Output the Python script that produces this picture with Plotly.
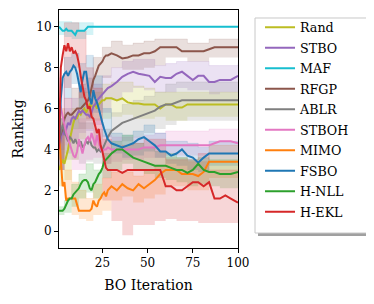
import plotly.graph_objects as go

# ---------------- data ----------------
names = ["Rand", "STBO", "MAF", "RFGP", "ABLR", "STBOH", "MIMO", "FSBO", "H-NLL", "H-EKL"]
colors = ["#bcbd22", "#9467bd", "#17becf", "#8c564b", "#7f7f7f",
          "#e377c2", "#ff7f0e", "#1f77b4", "#2ca02c", "#d62728"]
band_rgb = ["188,189,34", "148,103,189", "23,190,207", "140,86,75", "127,127,127",
            "227,119,194", "255,127,14", "31,119,180", "44,160,44", "214,39,40"]

iters = [1, 2, 3, 4, 5, 6, 7, 8, 9, 10, 11, 12, 13, 14, 15, 16, 17, 18, 19, 20,
         21, 22, 23, 24, 25, 26, 27, 28, 30, 33, 36, 39, 42, 45, 48, 51, 54, 57,
         60, 63, 66, 69, 72, 75, 78, 81, 84, 87, 90, 93, 96, 100]

rand = [3.0, 3.3, 3.5, 3.3, 3.6, 4.0, 4.5, 5.0, 5.3, 5.6, 5.5, 5.8, 5.7, 5.9, 6.0, 5.8, 6.0, 6.2, 6.1, 6.1,
        6.2, 6.0, 6.2, 6.3, 6.4, 6.4, 6.5, 6.5, 6.5, 6.4, 6.5, 6.3, 6.25, 6.25, 6.2, 6.2, 6.2, 6.0,
        6.2, 6.2, 6.05, 6.05, 6.2, 6.2, 6.2, 6.2, 6.2, 6.2, 6.2, 6.2, 6.2, 6.2]
stbo = [4.0, 4.5, 5.0, 4.7, 5.0, 5.3, 5.2, 5.5, 5.6, 5.5, 5.7, 5.9, 5.8, 5.9, 5.8, 5.7, 5.7, 5.6, 5.8, 6.1,
        6.2, 6.4, 6.5, 6.6, 6.7, 6.8, 6.9, 7.0, 7.1, 7.3, 7.55, 7.7, 7.8, 7.7, 7.65, 7.6, 7.3, 7.55,
        7.5, 7.5, 7.7, 7.8, 7.6, 7.4, 7.6, 7.6, 7.3, 7.3, 7.4, 7.4, 7.4, 7.6]
maf = [10.0, 9.9, 9.8, 9.8, 9.9, 9.8, 9.8, 9.8, 9.7, 9.6, 9.8, 9.8, 9.8, 9.8, 9.8, 9.9, 10.0, 10.0, 10.0, 10.0,
       10.0, 10.0, 10.0, 10.0, 10.0, 10.0, 10.0, 10.0, 10.0, 10.0, 10.0, 10.0, 10.0, 10.0, 10.0, 10.0, 10.0, 10.0,
       10.0, 10.0, 10.0, 10.0, 10.0, 10.0, 10.0, 10.0, 10.0, 10.0, 10.0, 10.0, 10.0, 10.0]
rfgp = [4.5, 4.8, 5.0, 5.5, 5.7, 5.8, 5.7, 5.7, 5.8, 5.9, 6.0, 6.0, 6.0, 6.1, 6.2, 6.3, 6.4, 6.6, 7.0, 7.4,
        7.6, 7.9, 8.1, 8.2, 8.3, 8.5, 8.6, 8.6, 8.7, 8.6, 8.45, 8.5, 8.6, 8.6, 8.7, 8.7, 8.8, 9.0,
        9.0, 9.0, 9.0, 8.8, 8.8, 8.8, 8.8, 8.8, 8.9, 9.0, 9.0, 9.0, 9.0, 9.0]
ablr = [4.5, 4.8, 5.2, 4.9, 4.6, 4.4, 4.6, 4.5, 4.3, 4.5, 4.3, 4.2, 4.4, 4.1, 4.2, 4.4, 4.3, 4.5, 4.2, 4.1,
        4.1, 3.9, 4.0, 3.9, 4.0, 4.2, 4.4, 4.6, 4.9, 5.1, 5.3, 5.4, 5.5, 5.6, 5.7, 5.8, 5.9, 6.1,
        6.2, 6.2, 6.3, 6.4, 6.4, 6.4, 6.4, 6.4, 6.4, 6.4, 6.4, 6.4, 6.4, 6.4]
stboh = [6.5, 6.0, 5.6, 5.2, 4.8, 4.5, 4.3, 4.0, 3.7, 3.6, 3.9, 4.5, 4.2, 3.8, 4.2, 4.5, 4.6, 4.4, 4.8, 4.5,
         4.2, 4.7, 4.4, 4.0, 3.9, 4.0, 4.0, 4.1, 4.0, 4.0, 4.0, 4.0, 4.0, 4.0, 4.1, 4.1, 4.1, 4.2,
         4.2, 4.2, 4.2, 4.2, 4.2, 4.2, 4.2, 4.2, 4.2, 4.3, 4.4, 4.4, 4.4, 4.3]
mimo = [4.8, 3.2, 2.2, 2.4, 1.5, 1.6, 1.6, 1.6, 1.6, 1.6, 1.3, 1.0, 1.0, 1.0, 1.0, 1.0, 1.0, 1.0, 1.1, 1.5,
        1.3, 1.2, 1.5, 1.6, 1.8, 1.9, 1.7, 2.0, 2.2, 2.0, 2.3, 2.1, 2.0, 2.3, 2.1, 2.3, 2.5, 2.8,
        3.0, 3.0, 3.0, 2.8, 2.8, 2.8, 2.7, 2.9, 3.4, 3.4, 3.4, 3.4, 3.4, 3.4]
fsbo = [4.2, 6.5, 7.5, 7.7, 7.8, 7.6, 7.8, 7.9, 8.1, 8.0, 7.7, 7.3, 6.8, 7.4, 7.8, 7.8, 7.2, 6.5, 6.2, 6.9,
        6.5, 6.3, 6.0, 5.6, 5.3, 5.0, 4.7, 4.5, 4.3, 4.2, 4.1, 4.2, 4.3, 4.5, 4.6, 4.4, 4.2, 3.9,
        3.9, 3.7, 3.8, 4.0, 3.7, 3.6, 3.35, 3.6, 3.8, 3.8, 3.8, 3.8, 3.8, 3.8]
hnll = [1.0, 1.0, 1.0, 1.1, 1.3, 1.5, 1.6, 1.6, 1.8, 1.9, 2.0, 2.1, 2.3, 2.45, 2.5, 2.5, 2.4, 2.1, 2.0, 2.3,
        2.4, 2.6, 2.8, 2.9, 3.1, 3.4, 3.5, 3.6, 3.8, 4.0, 4.0, 3.8, 3.6, 3.5, 3.4, 3.3, 3.2, 3.2,
        3.2, 3.1, 3.0, 3.0, 2.85, 3.0, 3.3, 3.0, 2.9, 2.9, 2.8, 2.8, 2.8, 2.9]
hekl = [4.0, 8.0, 8.6, 9.1, 8.8, 9.2, 8.8, 9.0, 8.7, 8.8, 8.6, 8.2, 7.6, 7.0, 6.6, 6.4, 6.0, 6.1, 5.6, 5.5,
        5.2, 4.8, 5.0, 4.2, 3.9, 3.5, 3.1, 3.0, 3.0, 3.0, 2.85, 3.0, 3.0, 3.0, 3.0, 3.0, 3.0, 3.0,
        2.2, 2.2, 2.0, 2.0, 2.2, 2.4, 2.4, 2.2, 2.4, 1.6, 1.6, 1.75, 1.6, 1.4]

band_iters = [1, 4, 8, 12, 16, 20, 25, 30, 36, 42, 48, 54, 60, 66, 72, 78, 84, 90, 96, 100]
rand_lo = [2.2, 2.5, 3.5, 4.5, 5.0, 5.4, 5.5, 5.6, 5.7, 5.5, 5.5, 5.6, 5.4, 5.4, 5.6, 5.6, 5.6, 5.6, 5.6, 5.6]
rand_hi = [4.0, 4.5, 6.0, 6.8, 6.8, 6.8, 7.2, 7.3, 7.3, 7.1, 7.0, 6.8, 6.8, 6.8, 6.8, 6.8, 6.8, 6.8, 6.8, 6.8]
stbo_lo = [3.0, 3.8, 4.5, 4.8, 4.9, 5.2, 5.8, 6.4, 6.8, 7.0, 6.9, 6.8, 6.8, 7.0, 6.9, 6.9, 6.7, 6.8, 6.8, 6.9]
stbo_hi = [5.0, 6.0, 6.5, 7.0, 6.8, 7.2, 7.6, 8.0, 8.3, 8.4, 8.4, 8.1, 8.2, 8.3, 8.3, 8.3, 8.1, 8.1, 8.1, 8.2]
maf_lo = [9.6, 9.5, 9.4, 9.4, 9.6, 10.0, 10.0, 10.0, 10.0, 10.0, 10.0, 10.0, 10.0, 10.0, 10.0, 10.0, 10.0, 10.0, 10.0, 10.0]
maf_hi = [10.25, 10.25, 10.2, 10.2, 10.2, 10.0, 10.0, 10.0, 10.0, 10.0, 10.0, 10.0, 10.0, 10.0, 10.0, 10.0, 10.0, 10.0, 10.0, 10.0]
rfgp_lo = [4.0, 4.5, 5.0, 5.0, 5.4, 6.5, 7.5, 8.0, 7.9, 7.9, 8.0, 8.1, 8.5, 8.5, 8.3, 8.3, 8.5, 8.5, 8.5, 8.5]
rfgp_hi = [5.5, 6.5, 7.0, 7.2, 7.5, 8.5, 9.0, 9.3, 9.1, 9.2, 9.3, 9.4, 9.4, 9.4, 9.2, 9.2, 9.4, 9.4, 9.4, 9.4]
ablr_lo = [3.5, 3.5, 3.5, 3.3, 3.4, 3.3, 3.3, 4.0, 4.4, 4.6, 4.8, 5.0, 5.2, 5.4, 5.4, 5.4, 5.4, 5.4, 5.4, 5.4]
ablr_hi = [5.5, 5.8, 5.5, 5.3, 5.3, 5.0, 5.0, 5.8, 6.2, 6.4, 6.6, 6.8, 7.2, 7.3, 7.3, 7.3, 7.3, 7.3, 7.3, 7.3]
stboh_lo = [5.5, 4.2, 3.0, 3.0, 3.5, 3.6, 3.3, 3.4, 3.5, 3.5, 3.6, 3.6, 3.7, 3.7, 3.7, 3.7, 3.8, 3.8, 3.8, 3.8]
stboh_hi = [7.5, 6.5, 5.0, 5.5, 5.5, 5.5, 4.7, 4.6, 4.6, 4.6, 4.7, 4.8, 4.9, 4.9, 4.9, 4.9, 5.0, 5.0, 5.0, 5.0]
mimo_lo = [3.5, 1.6, 0.8, 0.6, 0.5, 0.8, 1.0, 1.5, 1.7, 1.4, 1.6, 1.8, 2.2, 2.2, 2.0, 2.0, 2.6, 2.6, 2.6, 2.6]
mimo_hi = [6.0, 3.0, 2.4, 2.0, 1.6, 2.3, 2.6, 2.9, 2.9, 2.7, 3.0, 3.2, 3.6, 3.6, 3.4, 3.4, 4.2, 4.2, 4.2, 4.2]
fsbo_lo = [3.0, 6.5, 7.2, 6.0, 6.8, 5.8, 4.6, 3.8, 3.6, 3.7, 3.9, 3.6, 3.3, 3.2, 3.0, 2.9, 3.2, 3.2, 3.2, 3.2]
fsbo_hi = [5.5, 8.5, 8.7, 8.2, 8.6, 7.6, 6.0, 4.8, 4.7, 4.9, 5.2, 4.8, 4.4, 4.4, 4.3, 4.1, 4.4, 4.4, 4.4, 4.4]
hnll_lo = [0.8, 0.9, 1.2, 1.6, 1.9, 1.6, 2.6, 3.0, 3.3, 3.0, 2.8, 2.6, 2.5, 2.4, 2.2, 2.3, 2.2, 2.1, 2.1, 2.1]
hnll_hi = [1.2, 1.5, 2.3, 2.8, 3.3, 3.0, 3.8, 4.4, 4.7, 4.3, 4.1, 3.9, 3.8, 3.6, 3.5, 3.6, 3.5, 3.5, 3.5, 3.5]
hekl_lo = [3.0, 7.0, 8.0, 6.5, 5.5, 4.0, 1.5, 0.5, -0.2, 0.3, 0.3, 0.5, 0.6, 0.5, 0.5, 0.4, 0.4, 0.4, 0.4, 0.4]
hekl_hi = [5.0, 10.2, 10.2, 9.8, 8.0, 7.0, 4.5, 4.0, 4.2, 4.3, 4.5, 4.5, 3.5, 3.5, 3.5, 3.8, 3.0, 3.0, 3.0, 3.0]

means = [rand, stbo, maf, rfgp, ablr, stboh, mimo, fsbo, hnll, hekl]
lows = [rand_lo, stbo_lo, maf_lo, rfgp_lo, ablr_lo, stboh_lo, mimo_lo, fsbo_lo, hnll_lo, hekl_lo]
highs = [rand_hi, stbo_hi, maf_hi, rfgp_hi, ablr_hi, stboh_hi, mimo_hi, fsbo_hi, hnll_hi, hekl_hi]

x_ticks = [25, 50, 75, 100]
y_ticks = [0, 2, 4, 6, 8, 10]

# ---------------- figure ----------------
fig = go.Figure()
for nm, rgb, lo, hi in zip(names, band_rgb, lows, highs):
    fig.add_trace(go.Scatter(x=band_iters, y=lo, mode="lines", line=dict(width=0, shape="hv"),
                             showlegend=False, hoverinfo="skip"))
    fig.add_trace(go.Scatter(x=band_iters, y=hi, mode="lines", fill="tonexty",
                             fillcolor=f"rgba({rgb},0.19)",
                             line=dict(width=0.6, shape="hv", color=f"rgba({rgb},0.22)"),
                             showlegend=False, hoverinfo="skip"))
for nm, col, m in zip(names, colors, means):
    fig.add_trace(go.Scatter(x=iters, y=m, mode="lines", name=nm, legendgroup=nm,
                             line=dict(color=col, width=2)))

font_family = "DejaVu Serif"
# the page body keeps an 8px margin, so the figure is 8px smaller than the window
fig.update_layout(
    width=366, height=296,
    margin=dict(l=51, r=136, t=2, b=56),
    paper_bgcolor="white", plot_bgcolor="white",
    font=dict(family=font_family, size=12, color="black"),
    legend=dict(x=1.123, y=0.99, xanchor="left", yanchor="top",
                bgcolor="rgba(0,0,0,0)", borderwidth=0, tracegroupgap=1,
                font=dict(family=font_family, size=12.7), traceorder="grouped"),
    xaxis=dict(range=[1, 100], tickvals=x_ticks, showgrid=False, zeroline=False,
               showline=True, linecolor="black", linewidth=1, mirror=True,
               ticks="outside", ticklen=4, tickcolor="black",
               title=dict(text="BO Iteration", standoff=10),
               tickfont=dict(size=12)),
    yaxis=dict(range=[-0.82, 10.82], tickvals=y_ticks, showgrid=False, zeroline=False,
               showline=True, linecolor="black", linewidth=1, mirror=True,
               ticks="outside", ticklen=4, tickcolor="black",
               title=dict(text="Ranking", standoff=9),
               tickfont=dict(size=12)),
    shapes=[
        dict(type="rect", xref="paper", yref="paper", layer="above",
             x0=1.1117, x1=1.771, y0=0.0504, y1=0.9538,
             fillcolor="#a0a0a0", line=dict(width=0)),
        dict(type="rect", xref="paper", yref="paper", layer="above",
             x0=1.095, x1=1.7486, y0=0.0630, y1=0.9664,
             fillcolor="white", line=dict(width=1, color="#c8c8c8")),
    ],
)

fig.write_html("out.html")
